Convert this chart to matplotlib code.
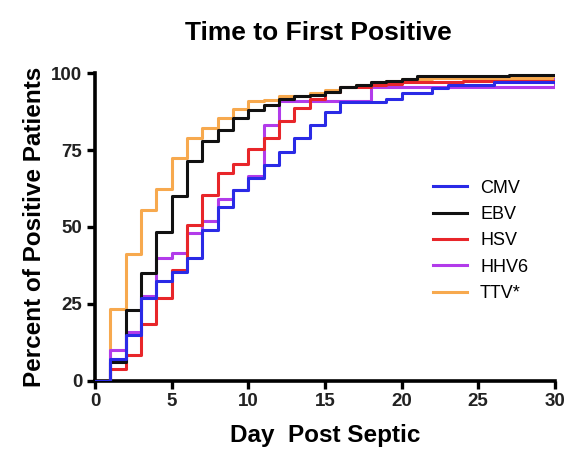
import matplotlib
matplotlib.use("Agg")
import matplotlib.pyplot as plt

plt.rcParams["font.family"] = ["Liberation Sans", "DejaVu Sans"]

# days since septic onset (value holds from day d until d+1)
days = list(range(31))

# cumulative percent of positive patients
cmv = [0, 7, 15, 27, 32.5, 35.5, 40, 49, 56.5, 62, 66, 70, 74.5, 79, 83,
       87.5, 90.5, 90.5, 90.5, 91.5, 93.5, 93.5, 95, 96, 96, 96, 97, 97, 97, 97, 97]
ebv = [0, 6, 23, 35, 48.5, 60, 71.5, 78, 81.5, 85.5, 88, 89.5, 91.5, 92.5, 93,
       94, 95.5, 96, 97, 97.5, 98, 99, 99, 99, 99, 99, 99, 99.5, 99.5, 99.5, 99.5]
hsv = [0, 4, 8.5, 18.5, 27, 36, 50.5, 60.5, 67.5, 70.5, 75.5, 79, 84.5, 88.5, 91.5,
       94, 95.5, 95.5, 96, 96.5, 97, 97, 97, 97, 97.5, 97.5, 97.5, 97.5, 97.5, 97.5, 97.5]
hhv6 = [0, 10, 16, 27.5, 40, 41.5, 48, 52, 59, 62, 66.5, 83, 91, 91, 91,
        91, 91, 91, 95.5, 95.5, 95.5, 95.5, 95.5, 95.5, 95.5, 95.5, 95.5, 95.5, 95.5, 95.5, 98]
ttv = [0, 23.5, 41.3, 55.5, 62.3, 72.3, 78.8, 82.2, 85.4, 88.3, 90.8, 91.4, 92.5, 92.5, 93.4,
       94.5, 95.5, 96, 97, 97.5, 98, 98, 98.5, 98.5, 98.5, 98.5, 98.5, 98.5, 98.5, 98.5, 98.5]

series = [("CMV", cmv, "#2a2ae6"), ("EBV", ebv, "#111111"), ("HSV", hsv, "#e8262a"),
          ("HHV6", hhv6, "#b23bea"), ("TTV*", ttv, "#f7a94e")]

fig = plt.figure(figsize=(5.72, 4.54), dpi=100)
ax = fig.add_axes([0.166, 0.161, 0.804, 0.678])

#draw each curve as a post-step line, first series on top
for i, (name, vals, col) in enumerate(series):
    ax.step(days, vals, where="post", color=col, linewidth=2.2, label=name,
            zorder=10 - i)

ax.set_xlim(0, 30)
ax.set_ylim(0, 100)
ax.set_xticks([0, 5, 10, 15, 20, 25, 30])
ax.set_yticks([0, 25, 50, 75, 100])

for side in ["top", "right"]:
    ax.spines[side].set_visible(False)
for side in ["left", "bottom"]:
    ax.spines[side].set_linewidth(2.6)
ax.tick_params(direction="out", length=6, width=2.4, labelsize=13.5, pad=3)
for lab in ax.get_xticklabels() + ax.get_yticklabels():
    lab.set_fontweight("bold")
    lab.set_color("#222222")

ax.set_title("Time to First Positive", fontsize=19, fontweight="bold", pad=24, x=0.485)
ax.set_xlabel("Day  Post Septic", fontsize=17.5, fontweight="bold", labelpad=10)
ax.set_ylabel("Percent of Positive Patients", fontsize=17.5, fontweight="bold", labelpad=4)

leg = ax.legend(loc="center left", bbox_to_anchor=(0.7, 0.455), frameon=False,
                fontsize=13, handlelength=1.9, handletextpad=0.7, labelspacing=0.52)
for h in leg.get_lines():
    h.set_linewidth(2.2)

fig.savefig("out.png", dpi=100)
